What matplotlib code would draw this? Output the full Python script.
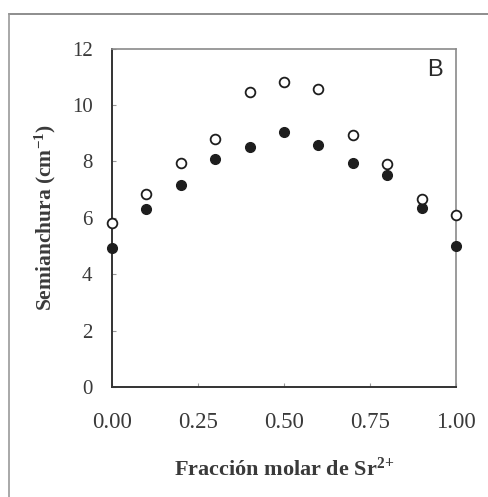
import numpy as np
import matplotlib.pyplot as plt
from matplotlib.lines import Line2D

# fracción molar de Sr2+ y semianchura de las dos bandas
x_frac = [0.0, 0.1, 0.2, 0.3, 0.4, 0.5, 0.6, 0.7, 0.8, 0.9, 1.0]
open_w = [5.8, 6.83, 7.95, 8.8, 10.45, 10.82, 10.55, 8.95, 7.92, 6.65, 6.1]
filled_w = [4.92, 6.32, 7.15, 8.08, 8.5, 9.05, 8.58, 7.95, 7.5, 6.35, 5.0]

xticks = [0.0, 0.25, 0.5, 0.75, 1.0]
xticklabels = ['0.00', '0.25', '0.50', '0.75', '1.00']
yticks = [0, 2, 4, 6, 8, 10, 12]

txt = '#3a3a3a'
plt.rcParams['font.family'] = ['Liberation Serif', 'DejaVu Serif']
plt.rcParams['mathtext.fontset'] = 'custom'
plt.rcParams['mathtext.rm'] = 'Liberation Serif'
plt.rcParams['mathtext.it'] = 'Liberation Serif'
plt.rcParams['mathtext.bf'] = 'Liberation Serif:bold'

fig = plt.figure(figsize=(4.88, 4.97), dpi=100)
ax = fig.add_axes([0.2295, 0.2213, 0.705, 0.6811])

ax.plot(x_frac, filled_w, 'o', ms=7, mfc='#1e1e1e', mec='#1e1e1e', clip_on=False, zorder=3)
ax.plot(x_frac, open_w, 'o', ms=7, mfc='white', mec='#1e1e1e', mew=1.3, clip_on=False, zorder=3)

ax.set_xlim(0, 1)
ax.set_ylim(0, 12)
ax.set_xticks(xticks)
ax.set_xticklabels(xticklabels)
ax.set_yticks(yticks)
ax.tick_params(direction='in', length=3, width=0.8, color='#999999',
               labelcolor=txt)
ax.tick_params(axis='x', pad=18, labelsize=16.5)
ax.tick_params(axis='y', pad=14, labelsize=15)

for side in ['left', 'bottom']:
    ax.spines[side].set_color('#333333')
    ax.spines[side].set_linewidth(1.4)
for side in ['right', 'top']:
    ax.spines[side].set_color('#8a8a8a')
    ax.spines[side].set_linewidth(1.2)

ax.set_xlabel(r'Fracción molar de Sr$^{\mathbf{2{+}}}$', fontsize=16, fontweight='bold',
              color=txt, labelpad=18)
ax.set_ylabel(r'Semianchura (cm$^{\mathbf{{-}1}}$)', fontsize=15.5, fontweight='bold',
              color=txt, labelpad=10)

ax.text(0.939, 0.936, 'B', transform=ax.transAxes, ha='center', va='center',
        fontsize=17, family='Liberation Sans', color='#2a2a2a')

# marco exterior de la figura (solo arriba e izquierda)
fig.add_artist(Line2D([9 / 488, 1.0], [1 - 14 / 497, 1 - 14 / 497],
                      color='#7a7a7a', lw=1.2))
fig.add_artist(Line2D([9 / 488, 9 / 488], [0, 1 - 14 / 497],
                      color='#9a9a9a', lw=1.2))

fig.savefig('out.png', dpi=100)
